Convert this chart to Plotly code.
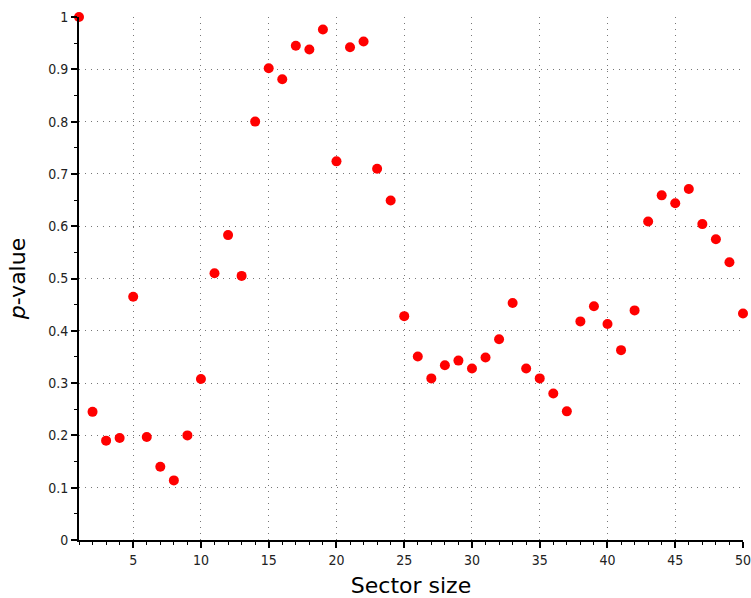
import plotly.graph_objects as go

sector_size = list(range(1, 51))
p_value = [1.0, 0.245, 0.19, 0.195, 0.465, 0.197, 0.14, 0.114, 0.2, 0.308,
           0.51, 0.583, 0.505, 0.80, 0.902, 0.881, 0.945, 0.938, 0.976, 0.724,
           0.942, 0.953, 0.71, 0.649, 0.428, 0.351, 0.309, 0.334, 0.343, 0.328,
           0.349, 0.384, 0.453, 0.328, 0.309, 0.28, 0.246, 0.418, 0.447, 0.413,
           0.363, 0.439, 0.609, 0.659, 0.644, 0.671, 0.604, 0.575, 0.531, 0.433]

fig = go.Figure()
fig.add_trace(go.Scatter(x=sector_size, y=p_value, mode="markers",
                         marker=dict(color="#ff0000", size=10),
                         cliponaxis=False, showlegend=False))

axis_common = dict(
    showline=True, linecolor="black", linewidth=2,
    ticks="outside", ticklen=6, tickwidth=2, tickcolor="black",
    showgrid=True, gridcolor="#777777", gridwidth=1, griddash="1px,5px",
    zeroline=False, mirror=False, automargin=False, ticklabeloverflow="allow",
    tickfont=dict(family="DejaVu Sans Condensed, DejaVu Sans", size=14, color="#222"),
)

fig.update_xaxes(range=[1, 50], dtick=5, tick0=0,
                 minor=dict(dtick=1, ticks="outside", ticklen=3, tickwidth=1,
                            tickcolor="black", showgrid=False),
                 title=dict(text="Sector size", standoff=14,
                            font=dict(family="DejaVu Sans", size=22, color="black")),
                 **axis_common)
fig.update_yaxes(range=[0, 1], dtick=0.1, tick0=0,
                 minor=dict(dtick=0.05, ticks="outside", ticklen=3, tickwidth=1,
                            tickcolor="black", showgrid=False),
                 title=dict(text="<i>p</i>-value", standoff=16,
                            font=dict(family="DejaVu Sans", size=22, color="black")),
                 **axis_common)

fig.update_layout(width=751, height=598,
                  margin=dict(l=79, r=8, t=17, b=58),
                  paper_bgcolor="white", plot_bgcolor="white")

fig.write_html("out.html", config={"displayModeBar": False},
               post_script="document.body.style.margin='0';document.body.style.overflow='hidden';")
